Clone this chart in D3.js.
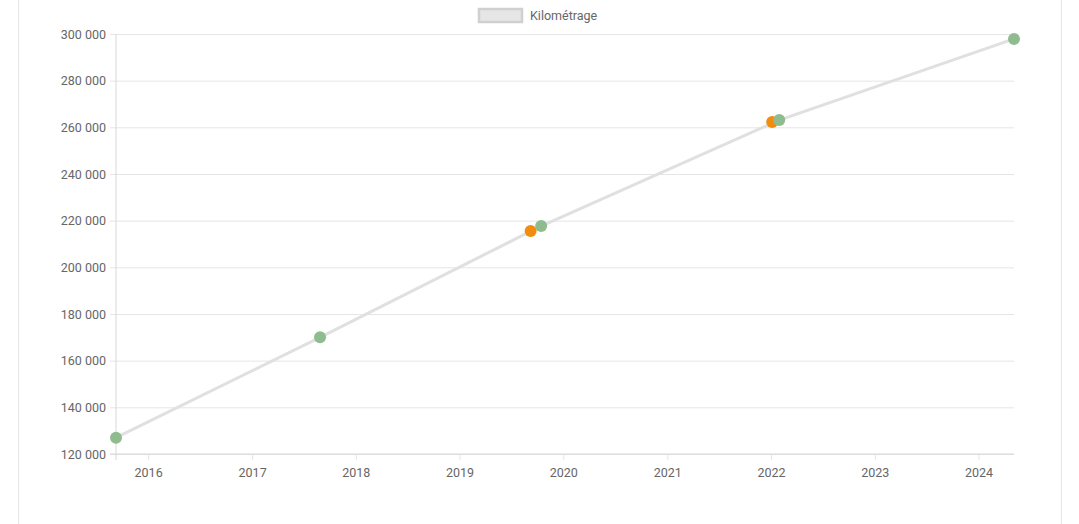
<!DOCTYPE html>
<html>
<head>
<meta charset="utf-8">
<script src="https://cdn.jsdelivr.net/npm/d3@7"></script>
<style>
  body { margin: 0; background: #fff; font-family: Roboto, sans-serif; }
  .card { position: absolute; left: 18px; top: -2px; width: 1042px; height: 540px; border: 1px solid #e6e6e6; }
</style>
</head>
<body>
<div class="card"></div>
<svg id="chart" width="1079" height="524" style="position:absolute;left:0;top:0"></svg>
<script>
// mileage readings (green) - the line goes through these
const readDates = ["2015-09-10", "2017-08-28", "2019-10-15", "2022-01-30", "2024-05-05"];
const readKm = [127000, 170000, 217700, 263100, 297900];
// other events (orange)
const eventDates = ["2019-09-08", "2022-01-05"];
const eventKm = [215600, 262300];
const yTicks = [120000, 140000, 160000, 180000, 200000, 220000, 240000, 260000, 280000, 300000];

const parse = d3.timeParse("%Y-%m-%d");
const reads = readDates.map((d, i) => ({date: parse(d), km: readKm[i]}));
const events = eventDates.map((d, i) => ({date: parse(d), km: eventKm[i]}));

const margin = {top: 34, left: 116, right: 65, bottom: 70};
const width = 1079 - margin.left - margin.right,
  height = 524 - margin.top - margin.bottom;

const svg = d3.select("#chart");
const g = svg.append("g").attr("transform", "translate(" + margin.left + "," + margin.top + ")");

const x = d3.scaleTime().domain(d3.extent(reads, d => d.date)).range([0, width]);
const y = d3.scaleLinear().domain([120000, 300000]).range([height, 0]);
const fmt = v => d3.format(",")(v).replace(/,/g, " ");

// y grid + axis
g.append("g")
  .call(d3.axisLeft(y).tickValues(yTicks).tickSize(-width - 6).tickFormat(fmt))
  .call(a => a.select(".domain").remove())
  .call(a => a.selectAll("line").attr("stroke", "#e5e5e5").attr("x1", -6).attr("x2", width))
  .call(a => a.selectAll("text").attr("x", -10).attr("fill", "#666").style("font-size", "12.5px").style("font-family", "Roboto"));

// x grid + axis
g.append("g")
  .attr("transform", "translate(0," + height + ")")
  .call(d3.axisBottom(x).ticks(d3.timeYear.every(1)).tickSize(-height).tickFormat(d3.timeFormat("%Y")))
  .call(a => a.select(".domain").remove())
  .call(a => a.selectAll("line").attr("stroke", "#e5e5e5").attr("y2", 6))
  .call(a => a.selectAll("text").attr("y", 14).attr("fill", "#666").style("font-size", "12.5px").style("font-family", "Roboto"));

// axis lines
g.append("line").attr("x1", 0).attr("x2", 0).attr("y1", 0).attr("y2", height + 6).attr("stroke", "#d8d8d8");
g.append("line").attr("x1", -6).attr("x2", width).attr("y1", height).attr("y2", height).attr("stroke", "#d8d8d8");

// line
g.append("path").datum(reads)
  .attr("fill", "none").attr("stroke", "#e0e0e0").attr("stroke-width", 3)
  .attr("d", d3.line().x(d => x(d.date)).y(d => y(d.km)));

g.selectAll(".ev").data(events).enter().append("circle")
  .attr("cx", d => x(d.date)).attr("cy", d => y(d.km)).attr("r", 6).attr("fill", "#f28c0f");
g.selectAll(".rd").data(reads).enter().append("circle")
  .attr("cx", d => x(d.date)).attr("cy", d => y(d.km)).attr("r", 6).attr("fill", "#8fbc8f");

// legend
svg.append("rect").attr("x", 479).attr("y", 9).attr("width", 43).attr("height", 13)
  .attr("fill", "#e6e6e6").attr("stroke", "#d0d0d0").attr("stroke-width", 2.5);
svg.append("text").attr("x", 530).attr("y", 20).text("Kilométrage")
  .attr("fill", "#666").style("font-size", "12.5px").style("font-family", "Roboto");
</script>
</body>
</html>
